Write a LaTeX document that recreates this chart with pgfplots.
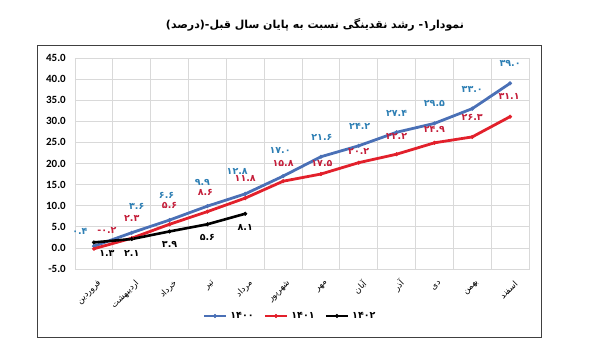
\documentclass[border=0pt]{standalone}
\usepackage{fontspec}
\usepackage{pgfplots}
\usepackage{pgfplotstable}
\pgfplotsset{compat=1.18}
\setmainfont{Carlito}
\newfontfamily\arabicfont[Script=Arabic]{DejaVu Sans}
\newfontfamily\digfont{DejaVu Sans}
\TeXXeTstate=1
\newcommand{\R}[1]{{\arabicfont\beginR#1\endR}}
\definecolor{bl}{HTML}{4A70B6}
\definecolor{rd}{HTML}{E2202B}
\definecolor{bllab}{HTML}{2E7FB4}
\definecolor{rdlab}{HTML}{C41E3A}
\definecolor{gridc}{HTML}{D9D9D9}
\definecolor{framec}{HTML}{404040}
\def\myDX{0}\def\myDY{0}

\pgfplotstableread{
x y lab dx dy
0 0.4 ۰.۴ -14 15
1 3.6 ۳.۶ 5 26
2 6.6 ۶.۶ -3 25
3 9.9 ۹.۹ -5 24
4 12.8 ۱۲.۸ -8 22
5 17.0 ۱۷.۰ -3 26
6 21.6 ۲۱.۶ 1 19
7 24.2 ۲۴.۲ 1 19
8 27.4 ۲۷.۴ 0 19
9 29.5 ۲۹.۵ 0 20
10 33.0 ۳۳.۰ 0 19
11 39.0 ۳۹.۰ 0 20
}\tblA

\pgfplotstableread{
x y lab dx dy
0 -0.2 -۰.۲ 13 18
1 2.3 ۲.۳ 0 20
2 5.6 ۵.۶ 0 19
3 8.6 ۸.۶ -2 19
4 11.8 ۱۱.۸ 0 20
5 15.8 ۱۵.۸ 0 18
6 17.5 ۱۷.۵ 1 11
7 20.2 ۲۰.۲ 0 11
8 22.2 ۲۲.۲ 0 18
9 24.9 ۲۴.۹ 0 13
10 26.3 ۲۶.۳ 0 19
11 31.1 ۳۱.۱ -1 20
}\tblB

\pgfplotstableread{
x y lab dx dy
0 1.3 ۱.۳ 13 -11
1 2.1 ۲.۱ 0 -14
2 3.9 ۳.۹ 0 -13.5
3 5.6 ۵.۶ 0 -13.5
4 8.1 ۸.۱ 0 -14
}\tblC

\begin{document}
\begin{tikzpicture}
\begin{axis}[
  at={(0pt,0pt)}, anchor=south west,
  scale only axis, width=454pt, height=211pt,
  xmin=-0.5, xmax=11.5, ymin=-5, ymax=45,
  clip=false,
  xtick={0,...,11},
  xticklabels={\R{فروردین},\R{اردیبهشت},\R{خرداد},\R{تیر},\R{مرداد},\R{شهریور},\R{مهر},\R{آبان},\R{آذر},\R{دی},\R{بهمن},\R{اسفند}},
  minor xtick={-0.5,0.5,...,11.5},
  xminorgrids, xmajorgrids=false,
  ytick={-5,0,...,45}, ymajorgrids,
  grid style={gridc, line width=0.7pt},
  minor grid style={gridc, line width=0.7pt},
  axis line style={gridc, line width=0.7pt},
  major tick length=0pt, minor tick length=0pt,
  yticklabel={\pgfmathprintnumber[fixed,fixed zerofill,precision=1,assume math mode=true]{\tick}},
  yticklabel style={font=\bfseries\fontsize{11}{12}\selectfont, inner sep=0pt, anchor=east, xshift=-9pt},
  xticklabel style={font=\fontsize{8.5}{9}\selectfont, inner sep=0pt, anchor=east, xshift=6pt, yshift=-13pt, rotate=45},
  legend style={at={(0.4736,-0.2227)}, anchor=center, draw=none, fill=none,
    font=\digfont\bfseries\fontsize{9.5}{10}\selectfont, legend columns=3,
    /tikz/every even column/.append style={column sep=8pt},
    /tikz/every odd column/.append style={column sep=1pt}},
  legend image code/.code={\draw[mark repeat=2,mark phase=2] plot coordinates {(0pt,0pt)(11pt,0pt)(22pt,0pt)};},
  point meta=explicit symbolic,
  nodes near coords={\pgfplotspointmeta},
  every node near coord/.append style={anchor=center, inner sep=0pt,
     font=\digfont\bfseries\fontsize{9.5}{10}\selectfont,
     xshift=\myDX pt, yshift=\myDY pt},
  visualization depends on={\thisrow{dx} \as \myDX},
  visualization depends on={\thisrow{dy} \as \myDY},
]
\addplot[color=bl, line width=2.8pt, mark=*, mark size=1.8pt, mark options={line width=0.5pt},
  every node near coord/.append style={text=bllab}] table[x=x,y=y,meta=lab] {\tblA};
\addlegendentry{۱۴۰۰}
\addplot[color=rd, line width=2.8pt, mark=*, mark size=1.8pt, mark options={line width=0.5pt},
  every node near coord/.append style={text=rdlab}] table[x=x,y=y,meta=lab] {\tblB};
\addlegendentry{۱۴۰۱}
\addplot[color=black, line width=2.6pt, mark=*, mark size=1.8pt, mark options={line width=0.5pt},
  every node near coord/.append style={text=black}] table[x=x,y=y,meta=lab] {\tblC};
\addlegendentry{۱۴۰۲}
\end{axis}
\node[font=\arabicfont\bfseries\fontsize{11}{12}\selectfont] at (240pt,244pt) {\beginR نمودار۱- رشد نقدینگی نسبت به پایان سال قبل-(درصد)\endR};
\draw[color=framec, line width=0.8pt] (-38pt,-68pt) rectangle (466pt,224pt);
\pgfresetboundingbox
\path (-75pt,-92pt) rectangle (515pt,269pt);
\end{tikzpicture}
\end{document}
